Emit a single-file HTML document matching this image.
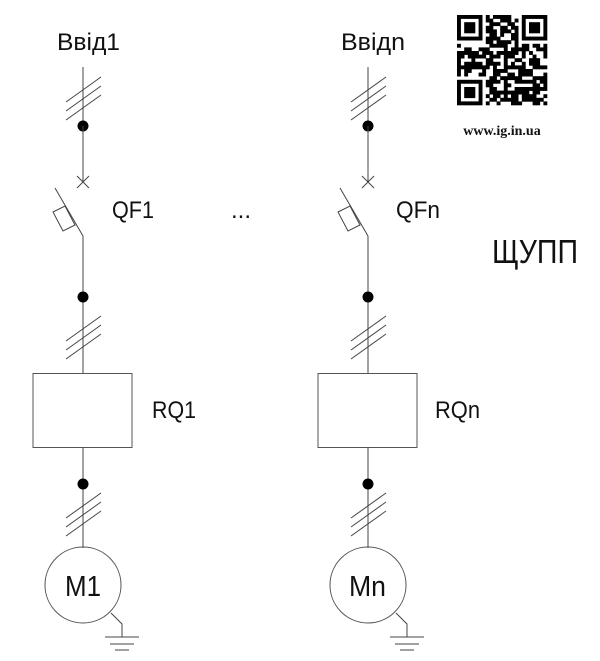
<!DOCTYPE html>
<html><head><meta charset="utf-8"><style>
html,body{margin:0;padding:0;background:#fff;width:600px;height:661px;overflow:hidden}
svg text{font-family:"Liberation Sans","DejaVu Sans",sans-serif;fill:#111}
.t{font-size:24px}
.m{font-size:29px}
</style></head><body>
<svg width="600" height="661" viewBox="0 0 600 661" xmlns="http://www.w3.org/2000/svg">
<defs>
<g id="c">
 <line x1="0" y1="67" x2="0" y2="126" stroke="#444" stroke-width="1"/>
 <g stroke="#444" stroke-width="1">
  <line x1="-17" y1="102" x2="18" y2="77"/>
  <line x1="-17" y1="111" x2="18" y2="86"/>
  <line x1="-17" y1="120" x2="18" y2="95"/>
 </g>
 <circle cx="0" cy="126" r="5.5" fill="#000"/>
 <line x1="0" y1="126" x2="0" y2="182" stroke="#444"/>
 <line x1="-6" y1="176" x2="6" y2="188" stroke="#444"/>
 <line x1="-6" y1="188" x2="6" y2="176" stroke="#444"/>
 <line x1="-28" y1="188" x2="0" y2="236" stroke="#444"/>
 <polygon points="-30,212 -18,206 -8,225 -20,231" fill="none" stroke="#444"/>
 <line x1="0" y1="236" x2="0" y2="373" stroke="#444"/>
 <circle cx="0" cy="297" r="5.5" fill="#000"/>
 <g stroke="#444">
  <line x1="-17" y1="341" x2="18" y2="316"/>
  <line x1="-17" y1="350" x2="18" y2="325"/>
  <line x1="-17" y1="359" x2="18" y2="334"/>
 </g>
 <rect x="-50" y="373.5" width="99" height="74" fill="none" stroke="#555"/>
 <line x1="0" y1="447" x2="0" y2="548" stroke="#444"/>
 <circle cx="0" cy="484" r="5.5" fill="#000"/>
 <g stroke="#444">
  <line x1="-17" y1="518" x2="18" y2="493"/>
  <line x1="-17" y1="527" x2="18" y2="502"/>
  <line x1="-17" y1="536" x2="18" y2="511"/>
 </g>
 <circle cx="0" cy="585" r="38" fill="none" stroke="#555"/>
 <polyline points="28,613 39,624 39,637" fill="none" stroke="#444"/>
 <line x1="22" y1="637" x2="56" y2="637" stroke="#444"/>
 <line x1="27" y1="644" x2="51" y2="644" stroke="#444"/>
 <line x1="32" y1="650" x2="46" y2="650" stroke="#444"/>
</g>
</defs>
<use href="#c" x="83"/>
<use href="#c" x="368"/>
<text class="t" x="57" y="50" textLength="63" lengthAdjust="spacingAndGlyphs">Ввід1</text>
<text class="t" x="341" y="50" textLength="64" lengthAdjust="spacingAndGlyphs">Ввідn</text>
<text class="t" x="112" y="218" textLength="42" lengthAdjust="spacingAndGlyphs">QF1</text>
<text class="t" x="396" y="218" textLength="44" lengthAdjust="spacingAndGlyphs">QFn</text>
<text class="t" x="152" y="418" textLength="44" lengthAdjust="spacingAndGlyphs">RQ1</text>
<text class="t" x="435" y="418" textLength="45" lengthAdjust="spacingAndGlyphs">RQn</text>
<text class="t" x="231" y="218">...</text>
<text class="m" x="65" y="596" textLength="36" lengthAdjust="spacingAndGlyphs">M1</text>
<text class="m" x="349" y="596" textLength="37" lengthAdjust="spacingAndGlyphs">Mn</text>
<text x="492" y="263" style="font-size:33px" textLength="86" lengthAdjust="spacingAndGlyphs">ЩУПП</text>
<text x="502" y="135" style="font-size:14px;font-weight:bold;font-family:'Liberation Serif',serif" text-anchor="middle">www.ig.in.ua</text>
<g id="qr" fill="#000"></g>
</svg>
<script>
var g=document.getElementById('qr'),x0=457,y0=15,s=90/25,N=25,seed=7;
function r(){seed=(seed*9301+49297)%233280;return seed/233280;}
function fin(i,j){return (i<7&&j<7)||(i<7&&j>=N-7)||(i>=N-7&&j<7);}
function finv(i,j){var a=i,b=j;if(i>=18)a=i-18;if(j>=18)b=j-18;
 if(a==0||a==6||b==0||b==6)return 1;if(a>=2&&a<=4&&b>=2&&b<=4)return 1;return 0;}
var h='';
for(var i=0;i<N;i++)for(var j=0;j<N;j++){var v;
 if(fin(i,j))v=finv(i,j);else if((i==7&&j<8)||(j==7&&i<8)||(i==7&&j>=N-8)||(j==N-8&&i<8)||(i==N-8&&j<8)||(j==7&&i>=N-8))v=0;
 else v=r()<0.55?1:0;
 if(v)h+='<rect x="'+(x0+j*s)+'" y="'+(y0+i*s)+'" width="'+(s+0.3)+'" height="'+(s+0.3)+'"/>';}
g.innerHTML=h;
</script>
</body></html>
